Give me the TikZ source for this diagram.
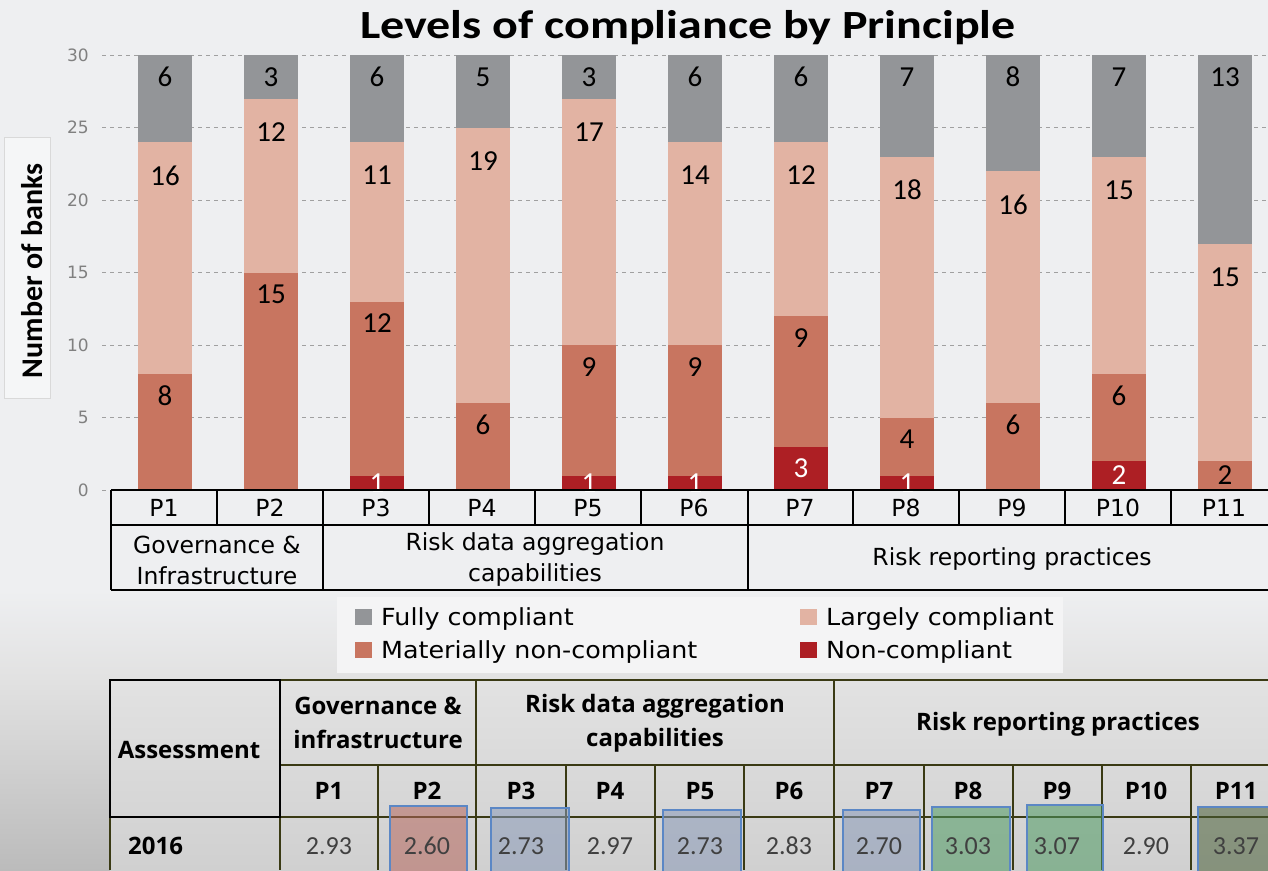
\documentclass[tikz,border=0pt]{standalone}
\usepackage{fontspec}
\setmainfont{DejaVu Sans}
\newfontfamily\calib{Carlito}
\newfontfamily\calibx{Carlito}[FakeStretch=1.2]
\newfontfamily\lgdfont{DejaVu Sans}[FakeStretch=1.08]
\newfontfamily\osans{Open Sans}
\usetikzlibrary{positioning}

\definecolor{fullc}{HTML}{939598}
\definecolor{largec}{HTML}{E2B3A3}
\definecolor{matc}{HTML}{C87560}
\definecolor{nonc}{HTML}{AD1F24}
\definecolor{bgc}{HTML}{EEEFF1}
\definecolor{gridc}{HTML}{A0A0A0}
\definecolor{tickc}{HTML}{808080}
\definecolor{olivec}{HTML}{3A3A14}
\definecolor{hlblue}{HTML}{5B87C5}
\definecolor{tabtop}{HTML}{E2E2E2}
\definecolor{tabbot}{HTML}{D0D0D0}
\definecolor{valc}{HTML}{404040}
\definecolor{hlred}{HTML}{B5665C}
\definecolor{hlblu}{HTML}{8A9AB8}
\definecolor{hlgrn}{HTML}{4E9A62}
\definecolor{hldrk}{HTML}{4A6038}
\definecolor{lgdbg}{HTML}{F4F4F5}

\begin{document}
\begin{tikzpicture}[x=1pt, y=-1pt]
	\tikzstyle{num} = [font=\calib\fontsize{29}{29}\selectfont, inner sep=0pt]
	\tikzstyle{numw} = [num, text=white]
	\tikzstyle{tick} = [font=\fontsize{17}{17}\selectfont, text=tickc, anchor=east, inner sep=0pt]
	\tikzstyle{cell} = [font=\fontsize{23.5}{31}\selectfont, align=center, inner sep=0pt]
	\tikzstyle{lgd} = [font=\lgdfont\fontsize{23.5}{23.5}\selectfont, anchor=base west, inner sep=0pt]
	\tikzstyle{head} = [font=\osans\bfseries\fontsize{24}{34}\selectfont, align=center, inner sep=0pt]
	\tikzstyle{val} = [font=\calib\fontsize{26}{26}\selectfont, text=valc, inner sep=0pt]
	\tikzstyle{hbox} = [draw=hlblue, line width=1.5pt, fill opacity=0.55]
	\tikzstyle{gridln} = [gridc, dash pattern=on 4pt off 4pt, line width=1pt]
	\tikzstyle{tabln} = [olivec, line width=2.5pt]
	\tikzstyle{catln} = [black, line width=2.6pt]

	% background
	\fill[bgc] (0,0) rectangle (1268,870);
	\useasboundingbox (0,0) rectangle (1268,870);
	\shade[top color=bgc, bottom color=tabtop] (0,590) rectangle (1268,677);
	\shade[top color=tabtop, bottom color=tabbot!90!black] (0,677) rectangle (1268,870);
	\filldraw[fill=white, fill opacity=0.45, draw=gridc!40] (4,137) rectangle (50,398);

	% title and axis
	\node[font=\calibx\bfseries\fontsize{40}{40}\selectfont, anchor=base] (title) at (688,38) {Levels of compliance by Principle};
	\node[font=\calib\bfseries\fontsize{30}{30}\selectfont, rotate=90, anchor=base] (ylab) at (42,271) {Number of banks};
	\foreach \v in {0,5,...,30} {
		\pgfmathsetmacro{\yy}{490-14.5*\v}
		\draw[gridln] (102,\yy) -- (1268,\yy);
		\node[tick] (tk\v) at (89,\yy) {\v};
	}

	% bars: principle / non / materially / largely / fully
	\foreach \i/\nc/\mc/\lc/\fc in {1/0/8/16/6, 2/0/15/12/3, 3/1/12/11/6, 4/0/6/19/5, 5/1/9/17/3,
			6/1/9/14/6, 7/3/9/12/6, 8/1/4/18/7, 9/0/6/16/8, 10/2/6/15/7, 11/0/2/15/13} {
		\pgfmathsetmacro{\xl}{138+106*(\i-1)}
		\pgfmathsetmacro{\xr}{\xl+54}
		\pgfmathsetmacro{\xm}{\xl+27}
		\pgfmathsetmacro{\ya}{490-14.5*\nc}
		\pgfmathsetmacro{\yb}{490-14.5*(\nc+\mc)}
		\pgfmathsetmacro{\yc}{490-14.5*(\nc+\mc+\lc)}
		\pgfmathsetmacro{\ym}{\mc<4 ? 490-14.5*(\nc+\mc/2) : 490-14.5*(\nc+\mc-1.5)}
		\fill[nonc] (\xl,490) rectangle (\xr,\ya);
		\fill[matc] (\xl,\ya) rectangle (\xr,\yb);
		\fill[largec] (\xl,\yb) rectangle (\xr,\yc);
		\fill[fullc] (\xl,\yc) rectangle (\xr,55);
		\ifnum\nc>0 \node[numw] (nc\i) at (\xm,{490-14.5*\nc/2}) {\nc}; \fi
		\node[num] (mc\i) at (\xm,\ym) {\mc};
		\node[num] (lc\i) at (\xm,{490-14.5*(\nc+\mc+\lc-2.3)}) {\lc};
		\node[num] (fc\i) at (\xm,77) {\fc};
	}

	% category table under the bars
	\foreach \i in {1,...,11}
		\node[cell] (cat\i) at ({164+106*(\i-1)},508) {P\i};
	\draw[catln] (111,490) -- (1268,490);
	\draw[black, line width=2pt] (111,525) -- (1268,525);
	\draw[catln] (111,590) -- (1268,590);
	\foreach \x in {111,323,748}
		\draw[catln] (\x,490) -- (\x,590);
	\foreach \x in {217,429,535,641,853,959,1065,1171}
		\draw[black, line width=1.8pt] (\x,490) -- (\x,525);
	\node[cell] (grpA) at (217,560) {Governance \&\\Infrastructure};
	\node[cell] (grpB) at (535,560) {Risk data aggregation\\capabilities};
	\node[cell] (grpC) at (1012,559) {Risk reporting practices};

	% legend
	\fill[lgdbg] (337,597) rectangle (1063,673);
	\foreach \c/\x/\y/\t [count=\k] in {fullc/355/625/Fully compliant, largec/800/625/Largely compliant,
			matc/355/658/Materially non-compliant, nonc/800/658/Non-compliant} {
		\fill[\c] (\x,\y-16) rectangle (\x+17,\y);
		\node[lgd] (lg\k) at (\x+26,\y) {\t};
	}

	% assessment table
	\shade[top color=tabtop, bottom color=tabbot] (110,680) rectangle (1268,870);
	\draw[tabln] (110,680) -- (1268,680);
	\draw[tabln] (280,765) -- (1268,765);
	\draw[tabln] (110,817) -- (1268,817);
	\foreach \x in {110,280,476,834}
		\draw[tabln] (\x,680) -- (\x,870);
	\foreach \x in {378,566,655,744,924,1013,1102,1191}
		\draw[tabln] (\x,765) -- (\x,870);
	\draw[black, line width=2.6pt] (110,680) rectangle (280,817);
	\foreach \xa/\xb/\yt/\cc in {390/467/806/hlred, 491/569/808/hlblu, 663/741/810/hlblu, 843/920/810/hlblu,
			932/1010/807/hlgrn, 1027/1103/805/hlgrn, 1198/1275/807/hldrk}
		\draw[hbox, fill=\cc] (\xa,\yt) rectangle (\xb,875);

	\node[head] (hass) at (189,750) {Assessment};
	\node[head] (hgov) at (378,723) {Governance \&\\infrastructure};
	\node[head] (hrda) at (655,723) {Risk data aggregation\\capabilities};
	\node[head] (hrrp) at (1058,724) {Risk reporting practices};
	\node[head, anchor=west] (yr) at (128,846) {2016};
	\foreach \xc/\vv [count=\i] in {329/2.93, 427/2.60, 521/2.73, 610/2.97, 700/2.73, 789/2.83,
			879/2.70, 968/3.03, 1057/3.07, 1146/2.90, 1236/3.37} {
		\node[head] (hp\i) at (\xc,791) {P\i};
		\node[val] (v\i) at (\xc,846) {\vv};
	}
\end{tikzpicture}
\end{document}
